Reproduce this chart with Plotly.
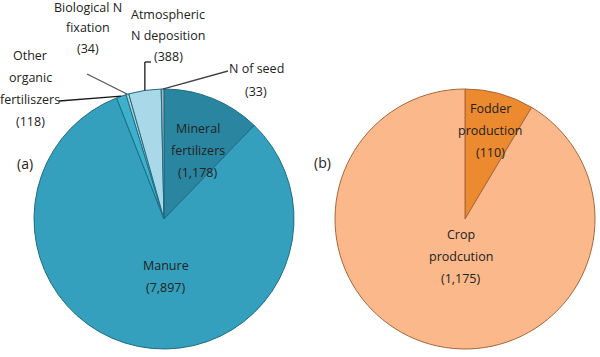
import math
import plotly.graph_objects as go

# ---- data ----
sources_a = ["Mineral fertilizers", "Manure", "Other organic fertiliszers",
             "Biological N fixation", "Atmospheric N deposition", "N of seed"]
values_a = [1178, 7897, 118, 34, 388, 33]
lines_a = [["Mineral", "fertilizers"], ["Manure"], ["Other", "organic", "fertiliszers"],
           ["Biological N", "fixation"], ["Atmospheric", "N deposition"], ["N of seed"]]
colors_a = ["#2a86a0", "#34a0bd", "#3cb0cc", "#b5cfd6", "#a9d8e8", "#a7b2b7"]

uses_b = ["Fodder production", "Crop prodcution"]
values_b = [110, 1175]
lines_b = [["Fodder", "production"], ["Crop", "prodcution"]]
colors_b = ["#ec8a2f", "#fbb98b"]

W, H = 600, 357
FONT = "Open Sans"
TXT = "#222222"

def px(x):
    return x / W

def py(y):
    return 1 - y / H

# pie geometry (pixels)
cxa, cya, r = 164, 219, 130
cxb, cyb = 465, 219

fig = go.Figure()
fig.add_trace(go.Pie(
    labels=sources_a, values=values_a, sort=False, direction="clockwise", rotation=0,
    marker=dict(colors=colors_a, line=dict(color="#1e6d82", width=1)),
    textinfo="none", hoverinfo="label+value", showlegend=False,
    domain=dict(x=[px(cxa - r), px(cxa + r)], y=[py(cya + r), py(cya - r)]),
))
fig.add_trace(go.Pie(
    labels=uses_b, values=values_b, sort=False, direction="clockwise", rotation=0,
    marker=dict(colors=colors_b, line=dict(color="#a8653a", width=1)),
    textinfo="none", hoverinfo="label+value", showlegend=False,
    domain=dict(x=[px(cxb - r), px(cxb + r)], y=[py(cyb + r), py(cyb - r)]),
))

annotations = []
shapes = []

def add_label(lines, value, x, y0, step=22):
    texts = lines + ["(" + f"{value:,}" + ")"]
    for i, t in enumerate(texts):
        annotations.append(dict(
            x=px(x), y=py(y0 + i * step), xref="paper", yref="paper",
            text=t, showarrow=False, xanchor="center", yanchor="middle",
            font=dict(family=FONT, size=12.5, color=TXT)))

# label anchor positions (pixels) for each slice
pos_a = [(198, 128, 22), (166, 265, 22), (30, 55, 22), (88, 7, 21), (168, 15, 21), (256, 68, 23)]
pos_b = [(490, 108, 22), (461, 234, 22)]

for lines, v, (x, y, s) in zip(lines_a, values_a, pos_a):
    add_label(lines, v, x, y, s)
for lines, v, (x, y, s) in zip(lines_b, values_b, pos_b):
    add_label(lines, v, x, y, s)

# leader lines to small slices: end point from slice mid-angle
total_a = sum(values_a)
cum = 0
mids = []
for v in values_a:
    mids.append((cum + v / 2) / total_a * 2 * math.pi)
    cum += v

def edge(i):
    a = mids[i]
    return cxa + r * math.sin(a), cya - r * math.cos(a)

def seg(x0, y0, x1, y1, color):
    shapes.append(dict(type="line", xref="paper", yref="paper",
                       x0=px(x0), y0=py(y0), x1=px(x1), y1=py(y1),
                       line=dict(color=color, width=1.3)))

# Other organic fertiliszers
ex, ey = edge(2)
seg(59, 101, ex, ey, "#1a1a1a")
# Biological N fixation
ex, ey = edge(3)
seg(87, 74, ex, ey, "#555555")
# Atmospheric N deposition
ex, ey = edge(4)
seg(ex, ey, ex, 62, "#1a1a1a")
seg(ex, 62, 151, 62, "#1a1a1a")
# N of seed
ex, ey = edge(5)
seg(228, 71, ex, ey, "#444444")

# panel labels
annotations.append(dict(x=px(15), y=py(164), xref="paper", yref="paper", text="(a)",
                        showarrow=False, font=dict(family=FONT, size=14, color=TXT)))
annotations.append(dict(x=px(322), y=py(163), xref="paper", yref="paper", text="(b)",
                        showarrow=False, font=dict(family=FONT, size=14, color=TXT)))

fig.update_layout(
    width=W, height=H, margin=dict(l=0, r=0, t=0, b=0),
    paper_bgcolor="white", plot_bgcolor="white",
    annotations=annotations, shapes=shapes, showlegend=False,
)
fig.write_html("out.html", config={"displayModeBar": False},
               post_script="document.body.style.margin='0';")
